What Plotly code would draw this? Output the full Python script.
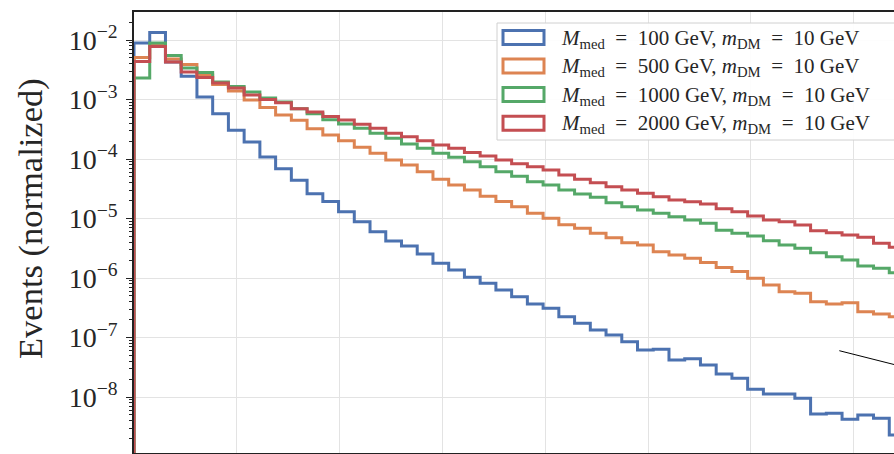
import numpy as np
import plotly.graph_objects as go

# Histogram binning (GeV): 49 bins between 0 and 1500
bin_edges = np.linspace(0, 1500, 50)

EQ = "\u2002=\u2002"
labels = [
    f"<i>M</i><sub>med</sub>{EQ}100 GeV, <i>m</i><sub>DM</sub>{EQ}10 GeV",
    f"<i>M</i><sub>med</sub>{EQ}500 GeV, <i>m</i><sub>DM</sub>{EQ}10 GeV",
    f"<i>M</i><sub>med</sub>{EQ}1000 GeV, <i>m</i><sub>DM</sub>{EQ}10 GeV",
    f"<i>M</i><sub>med</sub>{EQ}2000 GeV, <i>m</i><sub>DM</sub>{EQ}10 GeV",
]
colors = ["#4C72B0", "#DD8452", "#55A868", "#C44E52"]

# Normalised event fractions per bin
med_100 = [
    8.91e-3, 1.34e-2, 4.27e-3, 2.45e-3, 1.10e-3, 5.77e-4, 3.03e-4, 1.93e-4,
    1.08e-4, 6.87e-5, 4.39e-5, 2.61e-5, 1.93e-5, 1.30e-5, 8.83e-6, 6.00e-6,
    4.19e-6, 3.45e-6, 2.53e-6, 1.77e-6, 1.36e-6, 1.03e-6, 8.15e-7, 6.28e-7,
    4.85e-7, 3.66e-7, 3.10e-7, 2.24e-7, 1.73e-7, 1.34e-7, 1.10e-7, 8.49e-8,
    6.17e-8, 6.34e-8, 4.19e-8, 4.41e-8, 3.45e-8, 2.44e-8, 2.06e-8, 1.35e-8,
    1.12e-8, 1.12e-8, 9.50e-9, 5.18e-9, 5.32e-9, 4.22e-9, 4.98e-9, 4.39e-9,
    2.30e-9,
]
med_500 = [
    5.08e-3, 8.09e-3, 4.80e-3, 3.87e-3, 2.58e-3, 1.79e-3, 1.39e-3, 9.81e-4,
    7.34e-4, 5.49e-4, 4.47e-4, 3.23e-4, 2.53e-4, 2.03e-4, 1.57e-4, 1.25e-4,
    9.62e-5, 7.93e-5, 6.12e-5, 4.56e-5, 3.66e-5, 3.01e-5, 2.37e-5, 1.93e-5,
    1.57e-5, 1.22e-5, 1.01e-5, 7.87e-6, 6.84e-6, 5.64e-6, 4.74e-6, 3.92e-6,
    3.59e-6, 2.77e-6, 2.44e-6, 2.14e-6, 1.82e-6, 1.50e-6, 1.28e-6, 9.89e-7,
    7.62e-7, 5.89e-7, 5.53e-7, 4.00e-7, 3.66e-7, 3.85e-7, 2.72e-7, 2.48e-7,
    2.24e-7,
]
med_1000 = [
    2.30e-3, 8.91e-3, 5.48e-3, 3.38e-3, 2.84e-3, 1.97e-3, 1.65e-3, 1.34e-3,
    1.06e-3, 9.08e-4, 7.00e-4, 5.77e-4, 4.57e-4, 3.87e-4, 3.28e-4, 2.70e-4,
    2.23e-4, 1.79e-4, 1.51e-4, 1.25e-4, 1.07e-4, 9.01e-5, 7.43e-5, 6.12e-5,
    5.12e-5, 4.15e-5, 3.66e-5, 3.01e-5, 2.58e-5, 2.27e-5, 1.84e-5, 1.58e-5,
    1.39e-5, 1.22e-5, 1.07e-5, 9.44e-6, 8.30e-6, 6.34e-6, 5.64e-6, 5.08e-6,
    4.24e-6, 3.59e-6, 3.16e-6, 2.66e-6, 2.28e-6, 2.01e-6, 1.59e-6, 1.46e-6,
    1.23e-6,
]
med_2000 = [
    4.36e-3, 7.78e-3, 4.27e-3, 2.90e-3, 2.34e-3, 1.89e-3, 1.56e-3, 1.19e-3,
    1.00e-3, 8.83e-4, 7.00e-4, 6.17e-4, 5.18e-4, 4.52e-4, 3.83e-4, 3.28e-4,
    2.70e-4, 2.37e-4, 2.03e-4, 1.72e-4, 1.51e-4, 1.28e-4, 1.12e-4, 9.62e-5,
    8.34e-5, 7.43e-5, 6.53e-5, 5.38e-5, 4.56e-5, 4.00e-5, 3.42e-5, 3.01e-5,
    2.65e-5, 2.32e-5, 2.05e-5, 1.91e-5, 1.75e-5, 1.46e-5, 1.30e-5, 1.10e-5,
    9.44e-6, 8.83e-6, 7.78e-6, 6.24e-6, 5.77e-6, 5.28e-6, 4.83e-6, 3.83e-6,
    3.28e-6,
]
series = [med_100, med_500, med_1000, med_2000]

major_vals = [1e-2, 1e-3, 1e-4, 1e-5, 1e-6, 1e-7, 1e-8]
major_text = ["10<sup>\u22122</sup>", "10<sup>\u22123</sup>", "10<sup>\u22124</sup>",
              "10<sup>\u22125</sup>", "10<sup>\u22126</sup>", "10<sup>\u22127</sup>",
              "10<sup>\u22128</sup>"]
minor_vals = [m * 10.0 ** e for e in range(-9, -1) for m in range(2, 10)]

W, H = 894, 454
ML, MR, MT, MB = 134, 0, 12, 1
PW, PH = W - ML - MR, H - MT - MB
GEV_PER_PX = 200 / 102.8
LOG_TOP = -2 + 28 / 59.5
LOG_BOT = LOG_TOP - PH / 59.5

SERIF = "Liberation Serif, Times New Roman, serif"
TEXT_COLOR = "#262626"


def px_x(p):
    return (p - ML) / PW


def px_y(p):
    return (H - MB - p) / PH


fig = go.Figure()

# Step outlines, starting from the floor at the first edge
for vals, col in zip(series, colors):
    xs = [bin_edges[0]] + list(bin_edges)
    ys = [1e-12] + list(vals) + [vals[-1]]
    fig.add_trace(go.Scatter(
        x=xs, y=ys, mode="lines", line=dict(color=col, width=3, shape="hv"),
        showlegend=False, hoverinfo="skip",
    ))

# Legend frame, colour patches and labels
shapes = [dict(type="rect", xref="paper", yref="paper",
               x0=px_x(497), x1=px_x(902), y0=px_y(140), y1=px_y(23),
               line=dict(color="#d0d0d0", width=1), fillcolor="rgba(255,255,255,0.9)",
               layer="above")]
annotations = []
row_centres = [37.5, 65.9, 94.6, 123.3]
for lab, col, yc in zip(labels, colors, row_centres):
    shapes.append(dict(type="rect", xref="paper", yref="paper",
                       x0=px_x(503), x1=px_x(544), y0=px_y(yc + 7), y1=px_y(yc - 7),
                       line=dict(color=col, width=3), fillcolor="white", layer="above"))
    annotations.append(dict(xref="paper", yref="paper", x=px_x(559), y=px_y(yc + 1),
                            xanchor="left", yanchor="middle", showarrow=False,
                            text=lab, font=dict(family=SERIF, size=21, color=TEXT_COLOR)))

# Thin pointer line near the lower right
shapes.append(dict(type="line", xref="paper", yref="paper",
                   x0=px_x(839.3), y0=px_y(350.7), x1=px_x(894), y1=px_y(364.5),
                   line=dict(color="black", width=1), layer="above"))

annotations.append(dict(xref="paper", yref="paper", x=px_x(31), y=px_y(219),
                        xanchor="center", yanchor="middle", showarrow=False,
                        textangle=-90, text="Events (normalized)",
                        font=dict(family=SERIF, size=34.5, color=TEXT_COLOR)))

fig.update_layout(
    width=W, height=H, autosize=False,
    margin=dict(l=ML, r=MR, t=MT, b=MB, pad=0),
    paper_bgcolor="white", plot_bgcolor="white",
    shapes=shapes, annotations=annotations,
    xaxis=dict(
        range=[0, PW * GEV_PER_PX], tick0=0, dtick=200, showticklabels=False,
        ticks="", showgrid=True, gridcolor="#e3e3e3", gridwidth=1.2, zeroline=False,
        showline=True, linecolor="#222", linewidth=1.8, mirror=True,
    ),
    yaxis=dict(
        type="log", range=[LOG_BOT, LOG_TOP], tickmode="array",
        tickvals=major_vals, ticktext=major_text,
        ticks="outside", ticklen=6, tickwidth=1.2, tickcolor="#222",
        tickfont=dict(family=SERIF, size=28, color=TEXT_COLOR),
        ticklabelstandoff=3,
        showgrid=True, gridcolor="#e3e3e3", gridwidth=1.2, zeroline=False,
        showline=True, linecolor="#222", linewidth=1.6,
        minor=dict(tickmode="array", tickvals=minor_vals, ticks="outside",
                   ticklen=3.5, tickwidth=1, tickcolor="#222", showgrid=False),
    ),
)

fig.write_html("out.html", config={"displayModeBar": False})
